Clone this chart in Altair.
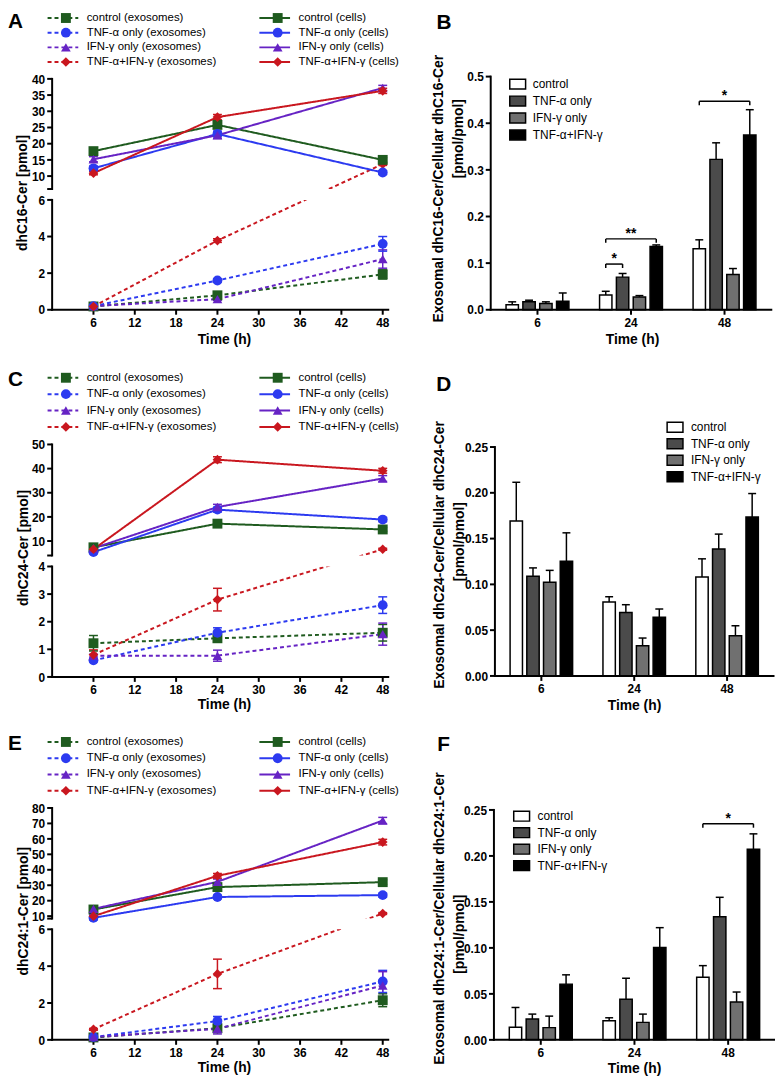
import altair as alt
import pandas as pd

FONT = "Liberation Sans"
W, H = 775, 1076

TIMES = [6, 24, 48]
TREATMENTS = ["control", "TNF-α only", "IFN-γ only", "TNF-α+IFN-γ"]
KINDS = ["exosomes", "cells"]
X_TICKS = [6, 12, 18, 24, 30, 36, 42, 48]

# ---------------- Panel A : dhC16-Cer [pmol] ----------------
A_CELLS = [[17.7, 25.8, 15.0], [12.4, 23.0, 11.1], [15.2, 22.6, 37.2], [10.9, 28.2, 36.3]]
A_CELLS_ERR = [[0.6, 0.8, 0.7], [0.7, 0.9, 0.6], [0.8, 1.0, 0.8], [0.5, 0.8, 0.8]]
A_EXO = [[0.18, 0.79, 1.93], [0.20, 1.60, 3.60], [0.20, 0.58, 2.77], [0.18, 3.78, 13.7]]
A_EXO_ERR = [[0.03, 0.08, 0.25], [0.03, 0.08, 0.40], [0.03, 0.07, 0.50], [0.03, 0.10, 0.40]]
A_YBREAK = [0, 6, 6.01, 40]
A_YTICKS = [0, 2, 4, 6, 10, 15, 20, 25, 30, 35, 40]

# ---------------- Panel C : dhC24-Cer [pmol] ----------------
C_CELLS = [[7.4, 17.2, 14.8], [5.4, 23.0, 18.9], [7.0, 24.1, 35.9], [6.6, 43.7, 39.1]]
C_CELLS_ERR = [[0.6, 0.9, 0.8], [0.5, 1.0, 0.9], [0.6, 1.1, 1.2], [0.5, 1.2, 1.0]]
C_EXO = [[1.22, 1.40, 1.60], [0.60, 1.60, 2.60], [0.77, 0.77, 1.55], [0.80, 2.80, 6.6]]
C_EXO_ERR = [[0.28, 0.10, 0.30], [0.05, 0.18, 0.30], [0.05, 0.20, 0.40], [0.18, 0.41, 0.40]]
C_YBREAK = [0, 4, 4.01, 50]
C_YTICKS = [0, 1, 2, 3, 4, 10, 20, 30, 40, 50]

# ---------------- Panel E : dhC24:1-Cer [pmol] ----------------
E_CELLS = [[14.3, 28.8, 32.0], [8.9, 22.4, 23.6], [14.7, 32.2, 71.9], [10.0, 36.1, 57.9]]
E_CELLS_ERR = [[1.0, 1.5, 1.5], [0.8, 1.2, 1.3], [1.0, 1.8, 2.0], [0.8, 1.5, 1.8]]
E_EXO = [[0.13, 0.63, 2.15], [0.15, 1.02, 3.17], [0.15, 0.60, 2.95], [0.57, 3.58, 11.7]]
E_EXO_ERR = [[0.03, 0.10, 0.35], [0.03, 0.25, 0.60], [0.03, 0.28, 0.75], [0.05, 0.80, 0.60]]
E_YBREAK = [0, 6, 8.4, 80]
E_YTICKS = [0, 2, 4, 6, 10, 20, 30, 40, 50, 60, 70, 80]

# ---------------- Bar panels (ratio exosomal / cellular) ----------------
B_MEAN = [[0.0106, 0.0318, 0.1308], [0.0170, 0.0700, 0.3225], [0.0134, 0.0276, 0.0757], [0.0184, 0.1358, 0.3750]]
B_ERR = [[0.0064, 0.0078, 0.0192], [0.0035, 0.0078, 0.0355], [0.0036, 0.0028, 0.0127], [0.0176, 0.0032, 0.0540]]
B_SIG = [(1, 0, 1, 0.098, "*"), (1, 0, 3, 0.152, "**"), (2, 0, 3, 0.447, "*")]
B_YTICKS = [0.0, 0.1, 0.2, 0.3, 0.4, 0.5]

D_MEAN = [[0.1693, 0.0807, 0.1080], [0.1088, 0.0692, 0.1387], [0.1023, 0.0331, 0.0439], [0.1254, 0.0641, 0.1736]]
D_ERR = [[0.0422, 0.0058, 0.0199], [0.0092, 0.0086, 0.0162], [0.0130, 0.0083, 0.0109], [0.0309, 0.0090, 0.0256]]
D_SIG = []
DF_YTICKS = [0.0, 0.05, 0.10, 0.15, 0.20, 0.25]

F_MEAN = [[0.0136, 0.0208, 0.0680], [0.0226, 0.0441, 0.1338], [0.0133, 0.0190, 0.0412], [0.0606, 0.1004, 0.2073]]
F_ERR = [[0.0216, 0.0032, 0.0127], [0.0054, 0.0229, 0.0212], [0.0125, 0.0090, 0.0108], [0.0101, 0.0216, 0.0167]]
F_SIG = [(2, 0, 3, 0.235, "*")]

# ---------------- styles ----------------
LINE_COLORS = ["#1f5b1f", "#2c3af0", "#6623c4", "#c9171f"]
MARKER_SHAPES = ["square", "circle", "triangle-up", "diamond"]
MARKER_SIZES = [100, 95, 120, 150]
BAR_FILLS = ["#ffffff", "#4b4b4b", "#707070", "#000000"]

color_scale = alt.Scale(domain=TREATMENTS, range=LINE_COLORS)
shape_scale = alt.Scale(domain=TREATMENTS, range=MARKER_SHAPES)
size_scale = alt.Scale(domain=TREATMENTS, range=MARKER_SIZES)
dash_scale = alt.Scale(domain=KINDS, range=[[4, 3], [1, 0]])
fill_scale = alt.Scale(domain=TREATMENTS, range=BAR_FILLS)


def enc_color():
    return alt.Color("treatment:N", scale=color_scale, legend=None)


def enc_shape():
    return alt.Shape("treatment:N", scale=shape_scale, legend=None)


def enc_size():
    return alt.Size("treatment:O", scale=size_scale, legend=None)


def enc_dash():
    return alt.StrokeDash("kind:N", scale=dash_scale, legend=None)


ONE = pd.DataFrame({"k": [0]})
XMAX = 48.8
LX = [44.6, 384.2]
TICK = 5
LAB = dict(font=FONT, fontSize=12, fontWeight="bold", color="black")


def axis_layers(xs, ys, x_end, y_segments, xticks, xlabels, yticks, ylabels):
    """Axis lines, ticks and tick labels drawn through the panel's own scales."""
    def XD(v):
        return alt.XDatum(v, type="quantitative", scale=xs, axis=None)

    def YD(v):
        return alt.YDatum(v, type="quantitative", scale=ys, axis=None)

    xt = pd.DataFrame({"t": xticks, "lab": xlabels})
    yt = pd.DataFrame({"t": yticks, "lab": ylabels})
    seg = pd.DataFrame({"s0": [s[0] for s in y_segments], "s1": [s[1] for s in y_segments]})
    Xt = alt.X("t:Q", scale=xs, axis=None)
    Yt = alt.Y("t:Q", scale=ys, axis=None)
    return [
        alt.Chart(ONE).mark_rule(color="black", strokeWidth=2, strokeCap="square").encode(
            x=XD(0), x2=alt.X2Datum(x_end), y=YD(0)),
        alt.Chart(seg).mark_rule(color="black", strokeWidth=2, strokeCap="square").encode(
            x=XD(0), y=alt.Y("s0:Q", scale=ys, axis=None), y2="s1"),
        alt.Chart(xt).mark_rule(color="black", strokeWidth=2, y2Offset=TICK).encode(
            x=Xt, y=YD(0), y2=alt.Y2Datum(0)),
        alt.Chart(xt).mark_text(baseline="top", dy=8.5, **LAB).encode(x=Xt, y=YD(0), text="lab:N"),
        alt.Chart(yt).mark_rule(color="black", strokeWidth=2, x2Offset=-TICK).encode(
            x=XD(0), x2=alt.X2Datum(0), y=Yt),
        alt.Chart(yt).mark_text(align="right", baseline="middle", dx=-7, dy=0.7, **LAB).encode(
            x=XD(0), y=Yt, text="lab:N"),
    ]


def line_panel(cells, cells_err, exo, exo_err, ybreak, yrange, yticks):
    rows = []
    for kind, vals, errs in (("exosomes", exo, exo_err), ("cells", cells, cells_err)):
        for ti, t in enumerate(TREATMENTS):
            for hi, h in enumerate(TIMES):
                v, e = vals[ti][hi], errs[ti][hi]
                rows.append(dict(treatment=t, kind=kind, time=h, value=v, lo=v - e, hi=v + e))
    df = pd.DataFrame(rows)
    tmin = ybreak[2]
    xs = alt.Scale(domain=[0, XMAX], range=LX, nice=False, zero=False)
    ys = alt.Scale(domain=ybreak, range=yrange, nice=False, zero=False)

    def X(f):
        return alt.X(f, type="quantitative", scale=xs, axis=None)

    def Y(f):
        return alt.Y(f, type="quantitative", scale=ys, axis=None)

    base = alt.Chart(df)
    lines = base.mark_line(strokeWidth=2).encode(
        x=X("time"), y=Y("value"), color=enc_color(), strokeDash=enc_dash())
    mask = alt.Chart(ONE).mark_rect(fill="white").encode(
        x=alt.XDatum(0, type="quantitative", scale=xs, axis=None), x2=alt.X2Datum(XMAX),
        y=alt.YDatum(ybreak[1], type="quantitative", scale=ys, axis=None), y2=alt.Y2Datum(tmin))
    axes = axis_layers(xs, ys, XMAX, [(ybreak[0], ybreak[1]), (tmin, ybreak[3])],
                       X_TICKS, [str(v) for v in X_TICKS],
                       yticks + [tmin], [str(v) for v in yticks] + [""])
    stems = base.mark_rule(strokeWidth=1.5).encode(x=X("time"), y=Y("lo"), y2="hi", color=enc_color())
    caps_hi = base.mark_rule(strokeWidth=1.5, xOffset=-4.5, x2Offset=4.5).encode(
        x=X("time"), x2="time", y=Y("hi"), color=enc_color())
    caps_lo = base.mark_rule(strokeWidth=1.5, xOffset=-4.5, x2Offset=4.5).encode(
        x=X("time"), x2="time", y=Y("lo"), color=enc_color())
    pts = base.mark_point(filled=True, opacity=1).encode(
        x=X("time"), y=Y("value"), color=enc_color(), shape=enc_shape(), size=enc_size())
    return alt.layer(lines, mask, *axes, stems, caps_hi, caps_lo, pts)


def line_legend(row0, row1):
    rows = [dict(treatment=t, kind=k, col=ci, row=ti, label=f"{t} ({k})")
            for ci, k in enumerate(KINDS) for ti, t in enumerate(TREATMENTS)]
    df = pd.DataFrame(rows)
    xs = alt.Scale(domain=[0, 1], range=[40, 254], nice=False, zero=False)
    ys = alt.Scale(domain=[0, 3], range=[row0, row1], nice=False, zero=False)
    base = alt.Chart(df).encode(x=alt.X("col:Q", scale=xs, axis=None), y=alt.Y("row:Q", scale=ys, axis=None))
    sample = base.mark_rule(strokeWidth=2, x2Offset=31).encode(x2="col", color=enc_color(), strokeDash=enc_dash())
    marker = base.mark_point(filled=True, opacity=1, xOffset=18.5).encode(
        color=enc_color(), shape=enc_shape(), size=enc_size())
    text = base.mark_text(align="left", baseline="middle", dx=39.5, font=FONT, fontSize=11.5,
                          color="black").encode(text="label:N")
    return alt.layer(sample, marker, text)


SUB = 0.18


def bar_panel(means, errs, sigs, xr, yr, ymax, yticks, yfmt, arm):
    rows = []
    for gi, g in enumerate(TREATMENTS):
        for hi, h in enumerate(TIMES):
            m, e = means[gi][hi], errs[gi][hi]
            rows.append(dict(group=g, time=h, xc=hi + 0.5 + (gi - 1.5) * SUB, value=m, hi=m + e))
    df = pd.DataFrame(rows)
    xs = alt.Scale(domain=[0, len(TIMES)], range=xr, nice=False, zero=False)
    ys = alt.Scale(domain=[0, ymax], range=yr, nice=False, zero=False)

    def X(f):
        return alt.X(f, type="quantitative", scale=xs, axis=None)

    def Y(f):
        return alt.Y(f, type="quantitative", scale=ys, axis=None, stack=None)

    base = alt.Chart(df)
    bars = base.mark_bar(stroke="black", strokeWidth=1.5, xOffset=-6.25, x2Offset=6.25).encode(
        x=X("xc"), x2="xc", y=Y("value"), y2=alt.Y2Datum(0),
        fill=alt.Fill("group:N", scale=fill_scale, legend=None))
    stems = base.mark_rule(color="black", strokeWidth=1.5).encode(x=X("xc"), y=Y("value"), y2="hi")
    caps = base.mark_rule(color="black", strokeWidth=1.5, xOffset=-4, x2Offset=4).encode(
        x=X("xc"), x2="xc", y=Y("hi"))
    axes = axis_layers(xs, ys, len(TIMES), [(0, ymax)],
                       [i + 0.5 for i in range(len(TIMES))], [str(t) for t in TIMES],
                       yticks, [format(v, yfmt) for v in yticks])
    layers = [bars, stems, caps] + axes
    if sigs:
        br = pd.DataFrame([dict(xa=t + 0.5 + (a - 1.5) * SUB, xb=t + 0.5 + (b - 1.5) * SUB, yv=y, label=s)
                           for (t, a, b, y, s) in sigs])
        br["xm"] = (br["xa"] + br["xb"]) / 2
        bb = alt.Chart(br)
        layers += [
            bb.mark_rule(color="black", strokeWidth=1.5).encode(x=X("xa"), x2="xb", y=Y("yv")),
            bb.mark_rule(color="black", strokeWidth=1.5, y2Offset=arm).encode(x=X("xa"), y=Y("yv"), y2="yv"),
            bb.mark_rule(color="black", strokeWidth=1.5, y2Offset=arm).encode(x=X("xb"), y=Y("yv"), y2="yv"),
            bb.mark_text(font=FONT, fontSize=14, fontWeight="bold", baseline="alphabetic", dy=-1,
                         color="black").encode(x=X("xm"), y=Y("yv"), text="label:N"),
        ]
    return alt.layer(*layers)


def bar_legend(row0, row1, box_x, text_x):
    df = pd.DataFrame({"group": TREATMENTS, "row": list(range(len(TREATMENTS)))})
    ys = alt.Scale(domain=[0, 3], range=[row0, row1], nice=False, zero=False)
    base = alt.Chart(df).encode(y=alt.Y("row:Q", scale=ys, axis=None))
    boxes = base.mark_rect(stroke="black", strokeWidth=1.5, yOffset=-5, y2Offset=5).encode(
        y2="row", x=alt.value(box_x), x2=alt.value(box_x + 16),
        fill=alt.Fill("group:N", scale=fill_scale, legend=None))
    labels = base.mark_text(align="left", baseline="middle", font=FONT, fontSize=12, color="black").encode(
        x=alt.value(text_x), text="group:N")
    return alt.layer(boxes, labels)


def label(txt, x, y, size, weight="bold", angle=0, align="left", baseline="alphabetic"):
    return alt.Chart(pd.DataFrame({"t": [txt]})).mark_text(
        font=FONT, fontSize=size, fontWeight=weight, angle=angle, align=align, baseline=baseline,
        color="black").encode(text="t:N", x=alt.value(x), y=alt.value(y))


def vtitle(txt, x, y):
    return label(txt, x, y, 14, angle=270, align="center", baseline="middle")


def htitle(txt, x, y):
    return label(txt, x, y, 14, align="center", baseline="middle")


layers = [
    line_panel(A_CELLS, A_CELLS_ERR, A_EXO, A_EXO_ERR, A_YBREAK, [299.3, 188.3, 177.3, 66.0], A_YTICKS),
    line_legend(4.5, 49),
    bar_panel(B_MEAN, B_ERR, B_SIG, [487.75, 771.25], [299.3, 63.7], 0.5, B_YTICKS, ".1f", 4),
    bar_legend(71.3, 122.7, 507, 530.3),
    line_panel(C_CELLS, C_CELLS_ERR, C_EXO, C_EXO_ERR, C_YBREAK, [670.3, 558.7, 547.6, 435.4], C_YTICKS),
    line_legend(368, 417.7),
    bar_panel(D_MEAN, D_ERR, D_SIG, [492, 773.5], [669.3, 438.0], 0.25, DF_YTICKS, ".2f", 4),
    bar_legend(418, 468, 666, 690),
    line_panel(E_CELLS, E_CELLS_ERR, E_EXO, E_EXO_ERR, E_YBREAK, [1037, 925.3, 914.5, 802.7], E_YTICKS),
    line_legend(736, 785.3),
    bar_panel(F_MEAN, F_ERR, F_SIG, [491, 775], [1037, 804.7], 0.25, DF_YTICKS, ".2f", 4),
    bar_legend(811, 861, 511, 535),
    label("A", 0, 15, 21), label("B", 433, 15.3, 21),
    label("C", 0, 376, 21), label("D", 432.7, 381.3, 21),
    label("E", 0, 743.7, 21), label("F", 433.7, 745, 21),
    vtitle("dhC16-Cer [pmol]", 15.3, 181.2),
    vtitle("dhC24-Cer [pmol]", 16, 540),
    vtitle("dhC24:1-Cer [pmol]", 16, 907),
    htitle("Time (h)", 218.7, 329.7),
    htitle("Time (h)", 218.7, 698.7),
    htitle("Time (h)", 218.7, 1065.5),
    htitle("Time (h)", 631, 329.5),
    htitle("Time (h)", 633, 699.5),
    htitle("Time (h)", 633, 1066.5),
    vtitle("Exosomal dhC16-Cer/Cellular dhC16-Cer", 435.3, 177),
    vtitle("[pmol/pmol]", 455.3, 126.5),
    vtitle("Exosomal dhC24-Cer/Cellular dhC24-Cer", 437, 547),
    vtitle("[pmol/pmol]", 457, 533.7),
    vtitle("Exosomal dhC24:1-Cer/Cellular dhC24:1-Cer", 437, 914.5),
    vtitle("[pmol/pmol]", 457, 930.3),
]

chart = alt.layer(*layers).resolve_scale(x="independent", y="independent").properties(
    width=W, height=H, padding=0, autosize=alt.AutoSizeParams(type="none"))

chart = chart.configure_view(stroke=None)

chart.save("out.html", embed_options={"renderer": "svg", "actions": False})
